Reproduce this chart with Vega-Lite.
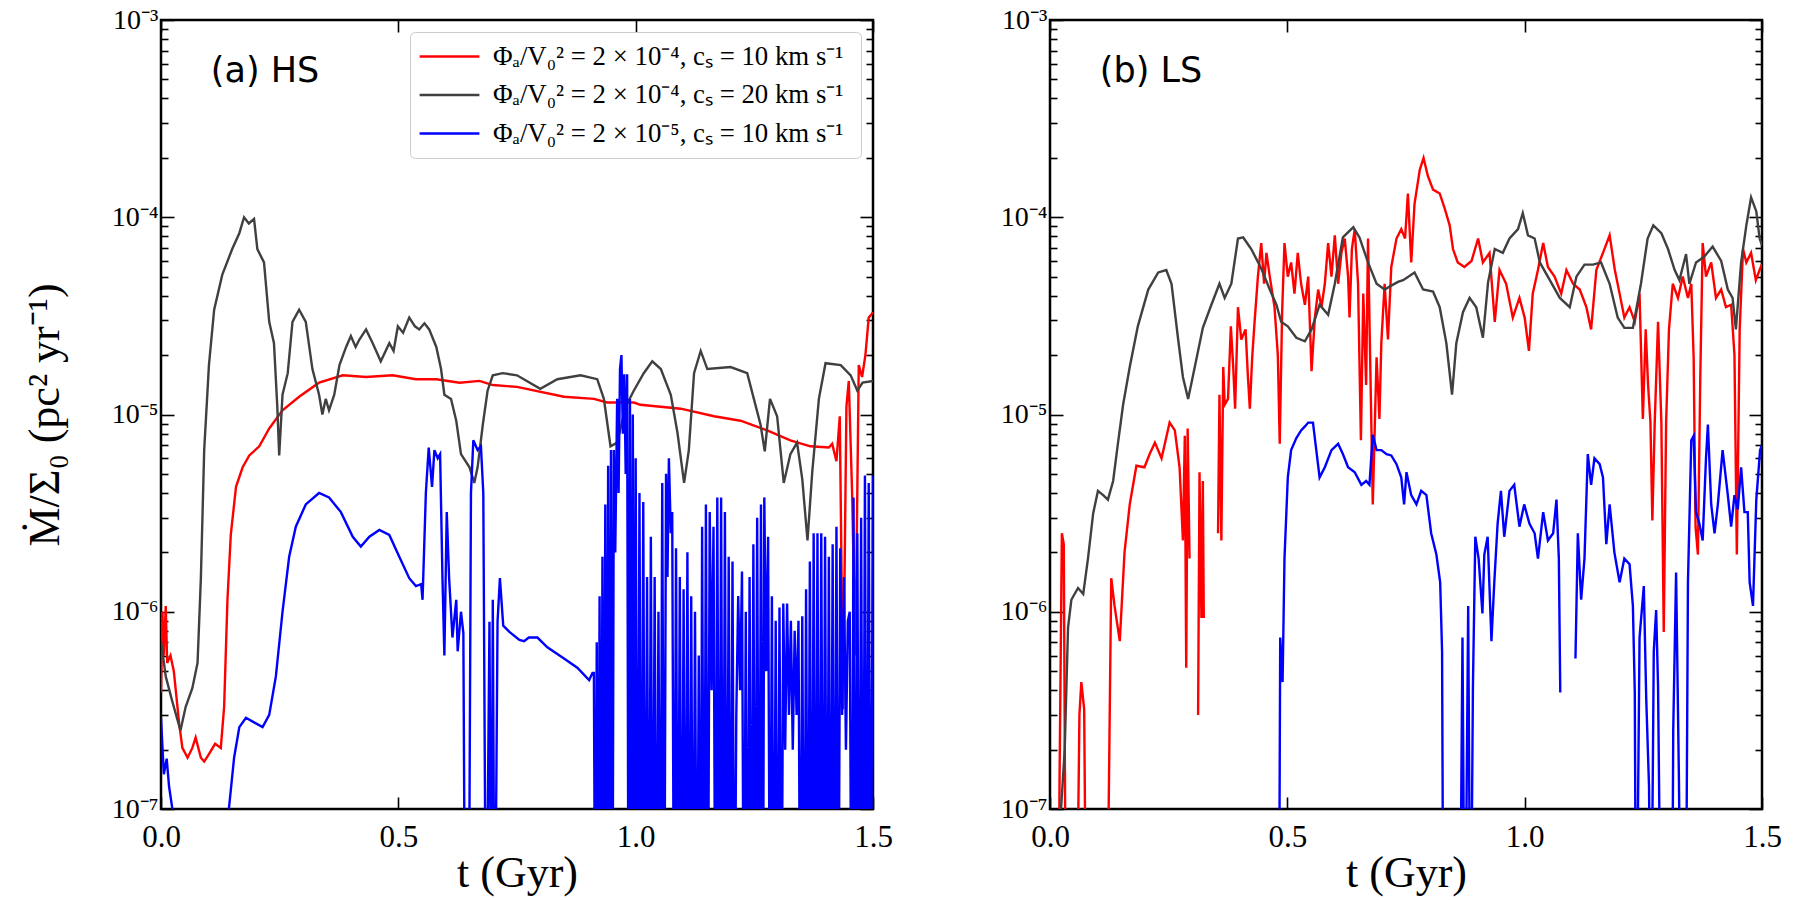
{
"$schema": "https://vega.github.io/schema/vega-lite/v6.json",
"background": "white",
"padding": {"left": 21, "top": 4, "right": 10, "bottom": 5},
"config": {
  "view": {"stroke": "black", "strokeWidth": 2.5},
  "concat": {"spacing": 104},
  "axis": {"domain": false, "grid": false, "tickColor": "black", "tickWidth": 1.6, "labelColor": "black", "titleColor": "black", "labelFont": "Liberation Serif", "titleFont": "Liberation Serif", "labelFontSize": 31, "titleFontSize": 44, "titleFontWeight": "normal", "labelFlush": false, "labelOverlap": false, "labelBound": false},
  "legend": {"labelFont": "Liberation Serif", "labelFontSize": 26.8, "labelColor": "black", "labelLimit": 0}
},
"resolve": {"scale": {"color": "independent"}, "legend": {"color": "independent"}},
"datasets": {
"hs": [
{"s":"g","t":0,"m":7.1e-7},{"s":"g","t":0.01,"m":4.7e-7},{"s":"g","t":0.024,"m":3.5e-7},{"s":"g","t":0.041,"m":2.5e-7},{"s":"g","t":0.052,"m":3.3e-7},{"s":"g","t":0.066,"m":4.1e-7},{"s":"g","t":0.077,"m":5.5e-7},{"s":"g","t":0.084,"m":1.48e-6},{"s":"g","t":0.091,"m":6.6e-6},{"s":"g","t":0.101,"m":1.78e-5},{"s":"g","t":0.112,"m":3.4e-5},{"s":"g","t":0.129,"m":5.1e-5},{"s":"g","t":0.15,"m":6.9e-5},{"s":"g","t":0.165,"m":8.3e-5},{"s":"g","t":0.175,"m":1.0e-4},{"s":"g","t":0.185,"m":9.3e-5},{"s":"g","t":0.196,"m":9.8e-5},{"s":"g","t":0.203,"m":6.9e-5},{"s":"g","t":0.217,"m":5.9e-5},{"s":"g","t":0.228,"m":2.95e-5},{"s":"g","t":0.238,"m":2.3e-5},{"s":"g","t":0.245,"m":1.1e-5},{"s":"g","t":0.249,"m":6.2e-6},{"s":"g","t":0.256,"m":1.26e-5},{"s":"g","t":0.267,"m":1.62e-5},{"s":"g","t":0.277,"m":2.95e-5},{"s":"g","t":0.291,"m":3.4e-5},{"s":"g","t":0.305,"m":2.95e-5},{"s":"g","t":0.319,"m":1.7e-5},{"s":"g","t":0.333,"m":1.26e-5},{"s":"g","t":0.34,"m":1.0e-5},{"s":"g","t":0.347,"m":1.2e-5},{"s":"g","t":0.354,"m":1.05e-5},{"s":"g","t":0.365,"m":1.26e-5},{"s":"g","t":0.376,"m":1.78e-5},{"s":"g","t":0.39,"m":2.2e-5},{"s":"g","t":0.40,"m":2.5e-5},{"s":"g","t":0.41,"m":2.2e-5},{"s":"g","t":0.418,"m":2.4e-5},{"s":"g","t":0.432,"m":2.7e-5},{"s":"g","t":0.446,"m":2.3e-5},{"s":"g","t":0.463,"m":1.86e-5},{"s":"g","t":0.481,"m":2.3e-5},{"s":"g","t":0.49,"m":2.1e-5},{"s":"g","t":0.499,"m":2.8e-5},{"s":"g","t":0.51,"m":2.6e-5},{"s":"g","t":0.523,"m":3.1e-5},{"s":"g","t":0.535,"m":2.8e-5},{"s":"g","t":0.544,"m":2.7e-5},{"s":"g","t":0.555,"m":2.9e-5},{"s":"g","t":0.565,"m":2.7e-5},{"s":"g","t":0.58,"m":2.2e-5},{"s":"g","t":0.59,"m":1.7e-5},{"s":"g","t":0.597,"m":1.26e-5},{"s":"g","t":0.611,"m":1.2e-5},{"s":"g","t":0.622,"m":9.3e-6},{"s":"g","t":0.632,"m":6.3e-6},{"s":"g","t":0.65,"m":5.4e-6},{"s":"g","t":0.66,"m":4.5e-6},{"s":"g","t":0.667,"m":5.4e-6},{"s":"g","t":0.678,"m":8.9e-6},{"s":"g","t":0.688,"m":1.32e-5},{"s":"g","t":0.699,"m":1.58e-5},{"s":"g","t":0.72,"m":1.62e-5},{"s":"g","t":0.75,"m":1.58e-5},{"s":"g","t":0.799,"m":1.35e-5},{"s":"g","t":0.835,"m":1.51e-5},{"s":"g","t":0.884,"m":1.58e-5},{"s":"g","t":0.919,"m":1.51e-5},{"s":"g","t":0.933,"m":1.2e-5},{"s":"g","t":0.947,"m":6.9e-6},{"s":"g","t":0.961,"m":7.2e-6},{"s":"g","t":0.979,"m":1.1e-5},{"s":"g","t":0.996,"m":1.32e-5},{"s":"g","t":1.017,"m":1.62e-5},{"s":"g","t":1.035,"m":1.86e-5},{"s":"g","t":1.053,"m":1.7e-5},{"s":"g","t":1.074,"m":1.26e-5},{"s":"g","t":1.088,"m":8.1e-6},{"s":"g","t":1.102,"m":4.5e-6},{"s":"g","t":1.112,"m":6.6e-6},{"s":"g","t":1.123,"m":1.62e-5},{"s":"g","t":1.137,"m":2.1e-5},{"s":"g","t":1.151,"m":1.7e-5},{"s":"g","t":1.2,"m":1.74e-5},{"s":"g","t":1.235,"m":1.62e-5},{"s":"g","t":1.249,"m":1.2e-5},{"s":"g","t":1.263,"m":8.9e-6},{"s":"g","t":1.272,"m":6.5e-6},{"s":"g","t":1.283,"m":1.2e-5},{"s":"g","t":1.298,"m":9.8e-6},{"s":"g","t":1.312,"m":4.5e-6},{"s":"g","t":1.326,"m":6.3e-6},{"s":"g","t":1.34,"m":7.2e-6},{"s":"g","t":1.351,"m":4.7e-6},{"s":"g","t":1.362,"m":2.3e-6},{"s":"g","t":1.372,"m":5.1e-6},{"s":"g","t":1.386,"m":1.2e-5},{"s":"g","t":1.4,"m":1.82e-5},{"s":"g","t":1.432,"m":1.78e-5},{"s":"g","t":1.453,"m":1.58e-5},{"s":"g","t":1.467,"m":1.32e-5},{"s":"g","t":1.478,"m":1.45e-5},{"s":"g","t":1.5,"m":1.48e-5},
{"s":"r","t":0,"m":3.9e-7},{"s":"r","t":0.003,"m":1.0e-6},{"s":"r","t":0.006,"m":6.0e-7},{"s":"r","t":0.01,"m":1.07e-6},{"s":"r","t":0.013,"m":5.5e-7},{"s":"r","t":0.02,"m":6.0e-7},{"s":"r","t":0.027,"m":5.0e-7},{"s":"r","t":0.038,"m":2.75e-7},{"s":"r","t":0.045,"m":2.04e-7},{"s":"r","t":0.056,"m":1.82e-7},{"s":"r","t":0.066,"m":2.04e-7},{"s":"r","t":0.073,"m":2.3e-7},{"s":"r","t":0.084,"m":1.82e-7},{"s":"r","t":0.091,"m":1.74e-7},{"s":"r","t":0.101,"m":1.9e-7},{"s":"r","t":0.114,"m":2.14e-7},{"s":"r","t":0.126,"m":2.04e-7},{"s":"r","t":0.133,"m":3.3e-7},{"s":"r","t":0.14,"m":1.15e-6},{"s":"r","t":0.147,"m":2.45e-6},{"s":"r","t":0.158,"m":4.3e-6},{"s":"r","t":0.172,"m":5.4e-6},{"s":"r","t":0.186,"m":6.2e-6},{"s":"r","t":0.207,"m":6.9e-6},{"s":"r","t":0.228,"m":8.5e-6},{"s":"r","t":0.256,"m":1.05e-5},{"s":"r","t":0.291,"m":1.23e-5},{"s":"r","t":0.333,"m":1.45e-5},{"s":"r","t":0.383,"m":1.58e-5},{"s":"r","t":0.432,"m":1.55e-5},{"s":"r","t":0.488,"m":1.58e-5},{"s":"r","t":0.537,"m":1.51e-5},{"s":"r","t":0.58,"m":1.51e-5},{"s":"r","t":0.629,"m":1.45e-5},{"s":"r","t":0.671,"m":1.48e-5},{"s":"r","t":0.699,"m":1.41e-5},{"s":"r","t":0.75,"m":1.38e-5},{"s":"r","t":0.849,"m":1.23e-5},{"s":"r","t":0.912,"m":1.2e-5},{"s":"r","t":0.94,"m":1.15e-5},{"s":"r","t":0.996,"m":1.15e-5},{"s":"r","t":1.01,"m":1.12e-5},{"s":"r","t":1.095,"m":1.07e-5},{"s":"r","t":1.165,"m":9.8e-6},{"s":"r","t":1.221,"m":9.3e-6},{"s":"r","t":1.277,"m":8.3e-6},{"s":"r","t":1.326,"m":7.4e-6},{"s":"r","t":1.368,"m":6.9e-6},{"s":"r","t":1.407,"m":6.8e-6},{"s":"r","t":1.414,"m":7.1e-6},{"s":"r","t":1.423,"m":5.8e-6},{"s":"r","t":1.43,"m":9.8e-6},{"s":"r","t":1.437,"m":3.2e-7},{"s":"r","t":1.444,"m":1.1e-5},{"s":"r","t":1.449,"m":1.48e-5},{"s":"r","t":1.456,"m":4.0e-6},{"s":"r","t":1.463,"m":6.0e-7},{"s":"r","t":1.47,"m":1.78e-5},{"s":"r","t":1.477,"m":1.55e-5},{"s":"r","t":1.484,"m":2.0e-5},{"s":"r","t":1.491,"m":3.1e-5},{"s":"r","t":1.496,"m":3.2e-5},{"s":"r","t":1.5,"m":3.3e-5},
{"s":"b","t":0,"m":2.9e-7},{"s":"b","t":0.006,"m":1.5e-7},{"s":"b","t":0.012,"m":1.8e-7},{"s":"b","t":0.017,"m":1.3e-7},{"s":"b","t":0.024,"m":1.0e-7},{"s":"b","t":0.03,"m":1e-8},{"s":"b","t":0.135,"m":1e-8},{"s":"b","t":0.143,"m":1.0e-7},{"s":"b","t":0.154,"m":1.82e-7},{"s":"b","t":0.165,"m":2.6e-7},{"s":"b","t":0.179,"m":2.9e-7},{"s":"b","t":0.196,"m":2.75e-7},{"s":"b","t":0.214,"m":2.6e-7},{"s":"b","t":0.228,"m":3.0e-7},{"s":"b","t":0.242,"m":4.7e-7},{"s":"b","t":0.256,"m":1.0e-6},{"s":"b","t":0.27,"m":1.9e-6},{"s":"b","t":0.284,"m":2.7e-6},{"s":"b","t":0.305,"m":3.5e-6},{"s":"b","t":0.333,"m":4.0e-6},{"s":"b","t":0.354,"m":3.8e-6},{"s":"b","t":0.379,"m":3.2e-6},{"s":"b","t":0.404,"m":2.4e-6},{"s":"b","t":0.421,"m":2.14e-6},{"s":"b","t":0.439,"m":2.4e-6},{"s":"b","t":0.46,"m":2.6e-6},{"s":"b","t":0.481,"m":2.45e-6},{"s":"b","t":0.502,"m":1.9e-6},{"s":"b","t":0.523,"m":1.48e-6},{"s":"b","t":0.537,"m":1.35e-6},{"s":"b","t":0.548,"m":1.38e-6},{"s":"b","t":0.551,"m":1.15e-6},{"s":"b","t":0.558,"m":4.0e-6},{"s":"b","t":0.564,"m":6.8e-6},{"s":"b","t":0.571,"m":4.3e-6},{"s":"b","t":0.576,"m":6.6e-6},{"s":"b","t":0.583,"m":6.0e-6},{"s":"b","t":0.588,"m":6.3e-6},{"s":"b","t":0.593,"m":1.48e-6},{"s":"b","t":0.597,"m":6.0e-7},{"s":"b","t":0.602,"m":3.2e-6},{"s":"b","t":0.607,"m":1.48e-6},{"s":"b","t":0.614,"m":7.4e-7},{"s":"b","t":0.622,"m":1.15e-6},{"s":"b","t":0.625,"m":6.3e-7},{"s":"b","t":0.632,"m":1.0e-6},{"s":"b","t":0.637,"m":7.8e-7},{"s":"b","t":0.641,"m":1e-8},{"s":"b","t":0.648,"m":1e-8},{"s":"b","t":0.653,"m":4.0e-6},{"s":"b","t":0.658,"m":7.4e-6},{"s":"b","t":0.667,"m":6.6e-6},{"s":"b","t":0.674,"m":6.9e-6},{"s":"b","t":0.679,"m":4.0e-6},{"s":"b","t":0.685,"m":1e-8},{"s":"b","t":0.692,"m":8.9e-7},{"s":"b","t":0.696,"m":1e-8},{"s":"b","t":0.699,"m":1.15e-6},{"s":"b","t":0.703,"m":1e-8},{"s":"b","t":0.709,"m":8.9e-7},{"s":"b","t":0.714,"m":1.48e-6},{"s":"b","t":0.721,"m":8.5e-7},{"s":"b","t":0.734,"m":7.9e-7},{"s":"b","t":0.755,"m":7.2e-7},{"s":"b","t":0.765,"m":7.1e-7},{"s":"b","t":0.775,"m":7.4e-7},{"s":"b","t":0.793,"m":7.4e-7},{"s":"b","t":0.814,"m":6.6e-7},{"s":"b","t":0.849,"m":5.8e-7},{"s":"b","t":0.877,"m":5.2e-7},{"s":"b","t":0.902,"m":4.5e-7},{"s":"b","t":0.909,"m":4.9e-7},
{"s":"b","t":0.912,"m":4.9e-7},{"s":"b","t":0.915,"m":1e-8},{"s":"b","t":0.918,"m":7e-7},{"s":"b","t":0.921,"m":1e-8},{"s":"b","t":0.924,"m":1.2e-6},{"s":"b","t":0.927,"m":1e-8},{"s":"b","t":0.93,"m":1.9e-6},{"s":"b","t":0.933,"m":1e-8},{"s":"b","t":0.936,"m":3.5e-6},{"s":"b","t":0.939,"m":1e-8},{"s":"b","t":0.942,"m":5.5e-6},{"s":"b","t":0.945,"m":1e-8},{"s":"b","t":0.948,"m":6.6e-6},{"s":"b","t":0.951,"m":1e-8},{"s":"b","t":0.954,"m":6.6e-6},{"s":"b","t":0.957,"m":2e-6},{"s":"b","t":0.961,"m":1.2e-5},{"s":"b","t":0.964,"m":4e-6},{"s":"b","t":0.967,"m":1.7e-5},{"s":"b","t":0.97,"m":2.0e-5},{"s":"b","t":0.973,"m":8e-6},{"s":"b","t":0.976,"m":1.6e-5},{"s":"b","t":0.979,"m":5e-6},{"s":"b","t":0.982,"m":1.6e-5},{"s":"b","t":0.985,"m":1e-8},{"s":"b","t":0.988,"m":1.2e-5},{"s":"b","t":0.991,"m":1e-8},{"s":"b","t":0.994,"m":1.0e-5},{"s":"b","t":0.997,"m":1e-8},{"s":"b","t":1.0,"m":6e-6},{"s":"b","t":1.004,"m":1e-8},{"s":"b","t":1.008,"m":4e-6},{"s":"b","t":1.012,"m":1e-8},{"s":"b","t":1.016,"m":3.6e-6},{"s":"b","t":1.02,"m":1e-8},{"s":"b","t":1.024,"m":1.5e-6},{"s":"b","t":1.028,"m":1e-8},{"s":"b","t":1.032,"m":2.4e-6},{"s":"b","t":1.036,"m":1e-8},{"s":"b","t":1.04,"m":1.5e-6},{"s":"b","t":1.044,"m":1e-8},{"s":"b","t":1.048,"m":1e-6},{"s":"b","t":1.052,"m":1e-8},{"s":"b","t":1.056,"m":4.5e-6},{"s":"b","t":1.06,"m":1e-8},{"s":"b","t":1.064,"m":5e-6},{"s":"b","t":1.067,"m":1.5e-6},{"s":"b","t":1.07,"m":6e-6},{"s":"b","t":1.074,"m":2.5e-6},{"s":"b","t":1.077,"m":3.2e-6},{"s":"b","t":1.081,"m":1e-8},{"s":"b","t":1.085,"m":2.1e-6},{"s":"b","t":1.089,"m":1e-8},{"s":"b","t":1.093,"m":1.5e-6},{"s":"b","t":1.097,"m":1e-8},{"s":"b","t":1.101,"m":1.3e-6},{"s":"b","t":1.105,"m":1e-8},{"s":"b","t":1.109,"m":2e-6},{"s":"b","t":1.113,"m":1e-8},{"s":"b","t":1.117,"m":1.2e-6},{"s":"b","t":1.121,"m":1e-8},{"s":"b","t":1.125,"m":1e-6},{"s":"b","t":1.129,"m":1e-8},{"s":"b","t":1.133,"m":6e-7},{"s":"b","t":1.137,"m":1e-8},{"s":"b","t":1.14,"m":2.7e-6},{"s":"b","t":1.144,"m":1e-8},{"s":"b","t":1.148,"m":3.5e-6},{"s":"b","t":1.152,"m":1e-8},{"s":"b","t":1.156,"m":3.2e-6},{"s":"b","t":1.16,"m":4e-7},{"s":"b","t":1.164,"m":2.7e-6},{"s":"b","t":1.168,"m":1e-8},{"s":"b","t":1.172,"m":3.8e-6},{"s":"b","t":1.176,"m":1e-8},{"s":"b","t":1.18,"m":3.8e-6},{"s":"b","t":1.184,"m":1e-8},{"s":"b","t":1.188,"m":3.2e-6},{"s":"b","t":1.192,"m":1e-8},{"s":"b","t":1.196,"m":1.9e-6},{"s":"b","t":1.2,"m":1e-8},{"s":"b","t":1.204,"m":1.8e-6},{"s":"b","t":1.208,"m":1e-8},{"s":"b","t":1.212,"m":3e-7},{"s":"b","t":1.216,"m":1.2e-6},{"s":"b","t":1.22,"m":4e-7},{"s":"b","t":1.224,"m":1.6e-6},{"s":"b","t":1.228,"m":1e-8},{"s":"b","t":1.232,"m":1e-6},{"s":"b","t":1.236,"m":1e-8},{"s":"b","t":1.24,"m":1.5e-6},{"s":"b","t":1.244,"m":1e-8},{"s":"b","t":1.248,"m":2.2e-6},{"s":"b","t":1.252,"m":1e-8},{"s":"b","t":1.256,"m":3e-6},{"s":"b","t":1.26,"m":1e-8},{"s":"b","t":1.264,"m":3.5e-6},{"s":"b","t":1.268,"m":1e-8},{"s":"b","t":1.271,"m":3.8e-6},{"s":"b","t":1.275,"m":5e-7},{"s":"b","t":1.279,"m":2.4e-6},{"s":"b","t":1.283,"m":1e-8},{"s":"b","t":1.287,"m":1.2e-6},{"s":"b","t":1.291,"m":1e-8},{"s":"b","t":1.295,"m":9e-7},{"s":"b","t":1.299,"m":1e-8},{"s":"b","t":1.303,"m":1.05e-6},{"s":"b","t":1.307,"m":1e-8},{"s":"b","t":1.311,"m":1.1e-6},{"s":"b","t":1.315,"m":2e-7},{"s":"b","t":1.319,"m":1.1e-6},{"s":"b","t":1.323,"m":3e-7},{"s":"b","t":1.327,"m":9e-7},{"s":"b","t":1.331,"m":2e-7},{"s":"b","t":1.335,"m":8e-7},{"s":"b","t":1.339,"m":3e-7},{"s":"b","t":1.343,"m":9e-7},{"s":"b","t":1.347,"m":1e-8},{"s":"b","t":1.351,"m":9.5e-7},{"s":"b","t":1.355,"m":1e-8},{"s":"b","t":1.359,"m":1.3e-6},{"s":"b","t":1.363,"m":1e-8},{"s":"b","t":1.367,"m":1.8e-6},{"s":"b","t":1.371,"m":1e-8},{"s":"b","t":1.375,"m":2.5e-6},{"s":"b","t":1.379,"m":1e-8},{"s":"b","t":1.383,"m":2.5e-6},{"s":"b","t":1.387,"m":1e-8},{"s":"b","t":1.391,"m":2.5e-6},{"s":"b","t":1.395,"m":1e-8},{"s":"b","t":1.399,"m":2.4e-6},{"s":"b","t":1.403,"m":1e-8},{"s":"b","t":1.407,"m":1.9e-6},{"s":"b","t":1.411,"m":1e-8},{"s":"b","t":1.415,"m":2.2e-6},{"s":"b","t":1.419,"m":1e-8},{"s":"b","t":1.423,"m":2.7e-6},{"s":"b","t":1.427,"m":1e-8},{"s":"b","t":1.431,"m":2.1e-6},{"s":"b","t":1.435,"m":3e-7},{"s":"b","t":1.439,"m":1.5e-6},{"s":"b","t":1.443,"m":2e-7},{"s":"b","t":1.447,"m":9e-7},{"s":"b","t":1.451,"m":1e-6},{"s":"b","t":1.455,"m":1e-8},{"s":"b","t":1.459,"m":3.8e-6},{"s":"b","t":1.463,"m":1e-8},{"s":"b","t":1.467,"m":2.5e-6},{"s":"b","t":1.471,"m":1e-8},{"s":"b","t":1.475,"m":3e-6},{"s":"b","t":1.479,"m":1e-8},{"s":"b","t":1.483,"m":4.9e-6},{"s":"b","t":1.487,"m":1e-8},{"s":"b","t":1.491,"m":4.5e-6},{"s":"b","t":1.495,"m":1e-8},{"s":"b","t":1.5,"m":4.9e-6}
],
"ls": [
{"s":"g","t":0.022,"m":9e-8},{"s":"g","t":0.031,"m":2e-7},{"s":"g","t":0.034,"m":3.7e-7},{"s":"g","t":0.038,"m":8.3e-7},{"s":"g","t":0.045,"m":1.15e-6},{"s":"g","t":0.059,"m":1.32e-6},{"s":"g","t":0.07,"m":1.23e-6},{"s":"g","t":0.08,"m":1.86e-6},{"s":"g","t":0.091,"m":3.16e-6},{"s":"g","t":0.101,"m":4.1e-6},{"s":"g","t":0.112,"m":3.9e-6},{"s":"g","t":0.122,"m":3.7e-6},{"s":"g","t":0.133,"m":4.6e-6},{"s":"g","t":0.143,"m":7.1e-6},{"s":"g","t":0.154,"m":1.12e-5},{"s":"g","t":0.168,"m":1.74e-5},{"s":"g","t":0.185,"m":2.8e-5},{"s":"g","t":0.207,"m":4.3e-5},{"s":"g","t":0.228,"m":5.25e-5},{"s":"g","t":0.245,"m":5.4e-5},{"s":"g","t":0.256,"m":4.6e-5},{"s":"g","t":0.27,"m":2.4e-5},{"s":"g","t":0.28,"m":1.55e-5},{"s":"g","t":0.291,"m":1.2e-5},{"s":"g","t":0.305,"m":1.74e-5},{"s":"g","t":0.322,"m":2.75e-5},{"s":"g","t":0.34,"m":3.6e-5},{"s":"g","t":0.357,"m":4.6e-5},{"s":"g","t":0.368,"m":3.9e-5},{"s":"g","t":0.382,"m":4.6e-5},{"s":"g","t":0.396,"m":7.8e-5},{"s":"g","t":0.407,"m":7.9e-5},{"s":"g","t":0.424,"m":6.9e-5},{"s":"g","t":0.445,"m":5.5e-5},{"s":"g","t":0.463,"m":4.3e-5},{"s":"g","t":0.477,"m":3.6e-5},{"s":"g","t":0.487,"m":2.95e-5},{"s":"g","t":0.501,"m":2.8e-5},{"s":"g","t":0.519,"m":2.45e-5},{"s":"g","t":0.537,"m":2.35e-5},{"s":"g","t":0.551,"m":2.7e-5},{"s":"g","t":0.568,"m":3.6e-5},{"s":"g","t":0.586,"m":3.2e-5},{"s":"g","t":0.6,"m":4.6e-5},{"s":"g","t":0.617,"m":7.9e-5},{"s":"g","t":0.639,"m":8.9e-5},{"s":"g","t":0.652,"m":7.9e-5},{"s":"g","t":0.67,"m":5.9e-5},{"s":"g","t":0.688,"m":4.6e-5},{"s":"g","t":0.705,"m":4.3e-5},{"s":"g","t":0.719,"m":4.5e-5},{"s":"g","t":0.733,"m":4.7e-5},{"s":"g","t":0.744,"m":4.8e-5},{"s":"g","t":0.768,"m":5.25e-5},{"s":"g","t":0.786,"m":4.3e-5},{"s":"g","t":0.807,"m":4.2e-5},{"s":"g","t":0.821,"m":3.5e-5},{"s":"g","t":0.835,"m":2.3e-5},{"s":"g","t":0.847,"m":1.26e-5},{"s":"g","t":0.856,"m":2.3e-5},{"s":"g","t":0.87,"m":3.3e-5},{"s":"g","t":0.884,"m":3.9e-5},{"s":"g","t":0.898,"m":3.5e-5},{"s":"g","t":0.912,"m":2.45e-5},{"s":"g","t":0.923,"m":4.7e-5},{"s":"g","t":0.937,"m":6.9e-5},{"s":"g","t":0.954,"m":6.6e-5},{"s":"g","t":0.968,"m":7.8e-5},{"s":"g","t":0.986,"m":8.7e-5},{"s":"g","t":0.996,"m":1.05e-4},{"s":"g","t":1.007,"m":8.1e-5},{"s":"g","t":1.021,"m":7.8e-5},{"s":"g","t":1.032,"m":5.9e-5},{"s":"g","t":1.053,"m":4.8e-5},{"s":"g","t":1.074,"m":3.9e-5},{"s":"g","t":1.095,"m":3.5e-5},{"s":"g","t":1.109,"m":5.0e-5},{"s":"g","t":1.126,"m":5.75e-5},{"s":"g","t":1.144,"m":5.75e-5},{"s":"g","t":1.161,"m":5.9e-5},{"s":"g","t":1.179,"m":4.6e-5},{"s":"g","t":1.196,"m":3.1e-5},{"s":"g","t":1.21,"m":2.75e-5},{"s":"g","t":1.228,"m":2.75e-5},{"s":"g","t":1.245,"m":4.6e-5},{"s":"g","t":1.259,"m":7.8e-5},{"s":"g","t":1.271,"m":9.1e-5},{"s":"g","t":1.288,"m":8.3e-5},{"s":"g","t":1.302,"m":6.9e-5},{"s":"g","t":1.316,"m":5.4e-5},{"s":"g","t":1.326,"m":4.8e-5},{"s":"g","t":1.34,"m":6.5e-5},{"s":"g","t":1.347,"m":4.6e-5},{"s":"g","t":1.361,"m":5.9e-5},{"s":"g","t":1.378,"m":6.3e-5},{"s":"g","t":1.396,"m":7.1e-5},{"s":"g","t":1.414,"m":6.0e-5},{"s":"g","t":1.428,"m":4.3e-5},{"s":"g","t":1.438,"m":3.9e-5},{"s":"g","t":1.445,"m":2.7e-5},{"s":"g","t":1.456,"m":5.9e-5},{"s":"g","t":1.467,"m":9.1e-5},{"s":"g","t":1.477,"m":1.26e-4},{"s":"g","t":1.488,"m":1.07e-4},{"s":"g","t":1.495,"m":7.8e-5},{"s":"g","t":1.5,"m":7.2e-5},
{"s":"r","t":0.018,"m":1e-8},{"s":"r","t":0.02,"m":1.3e-7},{"s":"r","t":0.025,"m":2.5e-6},{"s":"r","t":0.029,"m":2.2e-6},{"s":"r","t":0.034,"m":1e-8},{"s":"r","t":0.055,"m":1e-8},{"s":"r","t":0.062,"m":3e-7},{"s":"r","t":0.066,"m":4.4e-7},{"s":"r","t":0.072,"m":3.2e-7},{"s":"r","t":0.077,"m":1e-8},{"s":"r","t":0.119,"m":1e-8},{"s":"r","t":0.129,"m":1.48e-6},{"s":"r","t":0.136,"m":1.07e-6},{"s":"r","t":0.147,"m":7.1e-7},{"s":"r","t":0.157,"m":2.0e-6},{"s":"r","t":0.168,"m":3.5e-6},{"s":"r","t":0.182,"m":5.5e-6},{"s":"r","t":0.199,"m":5.4e-6},{"s":"r","t":0.21,"m":6.3e-6},{"s":"r","t":0.221,"m":7.2e-6},{"s":"r","t":0.235,"m":6.0e-6},{"s":"r","t":0.252,"m":9.1e-6},{"s":"r","t":0.263,"m":8.3e-6},{"s":"r","t":0.273,"m":5.4e-6},{"s":"r","t":0.28,"m":2.3e-6},{"s":"r","t":0.284,"m":7.8e-6},{"s":"r","t":0.287,"m":5.2e-7},{"s":"r","t":0.29,"m":8.5e-6},{"s":"r","t":0.294,"m":1.86e-6},{"s":"r","t":0.3,"m":null},{"s":"r","t":0.312,"m":3.0e-7},{"s":"r","t":0.315,"m":5.1e-6},{"s":"r","t":0.319,"m":9.3e-7},{"s":"r","t":0.322,"m":4.6e-6},{"s":"r","t":0.324,"m":9.3e-7},{"s":"r","t":0.34,"m":null},{"s":"r","t":0.354,"m":2.5e-6},{"s":"r","t":0.357,"m":1.26e-5},{"s":"r","t":0.361,"m":2.3e-6},{"s":"r","t":0.365,"m":1.74e-5},{"s":"r","t":0.368,"m":1.12e-5},{"s":"r","t":0.375,"m":1.2e-5},{"s":"r","t":0.381,"m":2.8e-5},{"s":"r","t":0.386,"m":1.74e-5},{"s":"r","t":0.39,"m":1.07e-5},{"s":"r","t":0.396,"m":3.5e-5},{"s":"r","t":0.403,"m":2.4e-5},{"s":"r","t":0.412,"m":2.7e-5},{"s":"r","t":0.417,"m":1.55e-5},{"s":"r","t":0.421,"m":1.07e-5},{"s":"r","t":0.426,"m":1.95e-5},{"s":"r","t":0.431,"m":2.95e-5},{"s":"r","t":0.438,"m":5.0e-5},{"s":"r","t":0.445,"m":7.4e-5},{"s":"r","t":0.451,"m":4.6e-5},{"s":"r","t":0.456,"m":6.6e-5},{"s":"r","t":0.463,"m":5.0e-5},{"s":"r","t":0.473,"m":3.5e-5},{"s":"r","t":0.48,"m":2.0e-5},{"s":"r","t":0.484,"m":7.1e-6},{"s":"r","t":0.489,"m":3.3e-5},{"s":"r","t":0.494,"m":7.4e-5},{"s":"r","t":0.501,"m":5.0e-5},{"s":"r","t":0.508,"m":5.9e-5},{"s":"r","t":0.515,"m":4.1e-5},{"s":"r","t":0.522,"m":6.6e-5},{"s":"r","t":0.529,"m":4.6e-5},{"s":"r","t":0.537,"m":3.6e-5},{"s":"r","t":0.544,"m":5.0e-5},{"s":"r","t":0.551,"m":1.66e-5},{"s":"r","t":0.558,"m":3.1e-5},{"s":"r","t":0.565,"m":4.3e-5},{"s":"r","t":0.572,"m":3.5e-5},{"s":"r","t":0.579,"m":4.6e-5},{"s":"r","t":0.586,"m":7.4e-5},{"s":"r","t":0.593,"m":5.0e-5},{"s":"r","t":0.6,"m":8.1e-5},{"s":"r","t":0.607,"m":4.6e-5},{"s":"r","t":0.614,"m":6.6e-5},{"s":"r","t":0.621,"m":7.8e-5},{"s":"r","t":0.628,"m":5.0e-5},{"s":"r","t":0.631,"m":3.1e-5},{"s":"r","t":0.636,"m":6.9e-5},{"s":"r","t":0.642,"m":8.7e-5},{"s":"r","t":0.649,"m":4.6e-5},{"s":"r","t":0.655,"m":7.4e-6},{"s":"r","t":0.66,"m":4.1e-5},{"s":"r","t":0.666,"m":1.41e-5},{"s":"r","t":0.67,"m":7.8e-5},{"s":"r","t":0.676,"m":1.2e-5},{"s":"r","t":0.68,"m":3.5e-6},{"s":"r","t":0.688,"m":1.95e-5},{"s":"r","t":0.694,"m":9.5e-6},{"s":"r","t":0.698,"m":2.3e-5},{"s":"r","t":0.705,"m":4.6e-5},{"s":"r","t":0.712,"m":2.4e-5},{"s":"r","t":0.719,"m":5.6e-5},{"s":"r","t":0.73,"m":7.8e-5},{"s":"r","t":0.74,"m":8.7e-5},{"s":"r","t":0.748,"m":7.8e-5},{"s":"r","t":0.754,"m":1.32e-4},{"s":"r","t":0.761,"m":5.9e-5},{"s":"r","t":0.768,"m":1.17e-4},{"s":"r","t":0.779,"m":1.74e-4},{"s":"r","t":0.787,"m":2.0e-4},{"s":"r","t":0.796,"m":1.62e-4},{"s":"r","t":0.807,"m":1.38e-4},{"s":"r","t":0.821,"m":1.32e-4},{"s":"r","t":0.831,"m":1.12e-4},{"s":"r","t":0.842,"m":9.1e-5},{"s":"r","t":0.849,"m":6.9e-5},{"s":"r","t":0.859,"m":5.9e-5},{"s":"r","t":0.873,"m":5.6e-5},{"s":"r","t":0.888,"m":6.0e-5},{"s":"r","t":0.902,"m":7.8e-5},{"s":"r","t":0.912,"m":5.9e-5},{"s":"r","t":0.926,"m":6.6e-5},{"s":"r","t":0.937,"m":2.95e-5},{"s":"r","t":0.947,"m":5.4e-5},{"s":"r","t":0.961,"m":4.6e-5},{"s":"r","t":0.975,"m":3.1e-5},{"s":"r","t":0.989,"m":3.9e-5},{"s":"r","t":1.0,"m":3.1e-5},{"s":"r","t":1.009,"m":2.1e-5},{"s":"r","t":1.017,"m":4.1e-5},{"s":"r","t":1.028,"m":5.4e-5},{"s":"r","t":1.039,"m":7.4e-5},{"s":"r","t":1.049,"m":5.6e-5},{"s":"r","t":1.063,"m":5.0e-5},{"s":"r","t":1.077,"m":4.1e-5},{"s":"r","t":1.088,"m":5.4e-5},{"s":"r","t":1.102,"m":4.6e-5},{"s":"r","t":1.116,"m":4.3e-5},{"s":"r","t":1.13,"m":3.5e-5},{"s":"r","t":1.14,"m":2.7e-5},{"s":"r","t":1.151,"m":5.4e-5},{"s":"r","t":1.165,"m":6.6e-5},{"s":"r","t":1.179,"m":8.1e-5},{"s":"r","t":1.19,"m":5.4e-5},{"s":"r","t":1.2,"m":4.1e-5},{"s":"r","t":1.21,"m":3.1e-5},{"s":"r","t":1.221,"m":3.5e-5},{"s":"r","t":1.232,"m":2.95e-5},{"s":"r","t":1.242,"m":4.1e-5},{"s":"r","t":1.249,"m":9.5e-6},{"s":"r","t":1.255,"m":2.7e-5},{"s":"r","t":1.26,"m":1.41e-5},{"s":"r","t":1.265,"m":9.1e-6},{"s":"r","t":1.269,"m":2.9e-6},{"s":"r","t":1.274,"m":9.1e-6},{"s":"r","t":1.281,"m":2.95e-5},{"s":"r","t":1.288,"m":9.1e-6},{"s":"r","t":1.293,"m":7.9e-7},{"s":"r","t":1.298,"m":9.1e-6},{"s":"r","t":1.304,"m":2.7e-5},{"s":"r","t":1.312,"m":4.6e-5},{"s":"r","t":1.323,"m":3.9e-5},{"s":"r","t":1.333,"m":5.0e-5},{"s":"r","t":1.344,"m":3.9e-5},{"s":"r","t":1.351,"m":4.6e-5},{"s":"r","t":1.356,"m":1.95e-5},{"s":"r","t":1.36,"m":2.7e-6},{"s":"r","t":1.365,"m":1.95e-6},{"s":"r","t":1.37,"m":1.55e-5},{"s":"r","t":1.375,"m":7.4e-5},{"s":"r","t":1.382,"m":5.0e-5},{"s":"r","t":1.393,"m":5.9e-5},{"s":"r","t":1.403,"m":3.9e-5},{"s":"r","t":1.414,"m":4.3e-5},{"s":"r","t":1.424,"m":3.5e-5},{"s":"r","t":1.435,"m":3.6e-5},{"s":"r","t":1.442,"m":2.0e-5},{"s":"r","t":1.447,"m":1.95e-6},{"s":"r","t":1.453,"m":2.7e-5},{"s":"r","t":1.46,"m":6.9e-5},{"s":"r","t":1.467,"m":5.9e-5},{"s":"r","t":1.477,"m":6.6e-5},{"s":"r","t":1.487,"m":4.8e-5},{"s":"r","t":1.495,"m":5.4e-5},{"s":"r","t":1.5,"m":5.8e-5},
{"s":"b","t":0.482,"m":1e-8},{"s":"b","t":0.485,"m":7.4e-7},{"s":"b","t":0.49,"m":4.4e-7},{"s":"b","t":0.494,"m":1.86e-6},{"s":"b","t":0.501,"m":4.8e-6},{"s":"b","t":0.508,"m":6.6e-6},{"s":"b","t":0.519,"m":7.6e-6},{"s":"b","t":0.529,"m":8.3e-6},{"s":"b","t":0.537,"m":8.7e-6},{"s":"b","t":0.544,"m":9.1e-6},{"s":"b","t":0.554,"m":9.1e-6},{"s":"b","t":0.561,"m":6.6e-6},{"s":"b","t":0.568,"m":4.8e-6},{"s":"b","t":0.579,"m":5.4e-6},{"s":"b","t":0.593,"m":6.6e-6},{"s":"b","t":0.607,"m":7.1e-6},{"s":"b","t":0.617,"m":6.3e-6},{"s":"b","t":0.628,"m":5.4e-6},{"s":"b","t":0.642,"m":5.1e-6},{"s":"b","t":0.656,"m":4.4e-6},{"s":"b","t":0.666,"m":4.6e-6},{"s":"b","t":0.673,"m":4.4e-6},{"s":"b","t":0.68,"m":7.9e-6},{"s":"b","t":0.688,"m":6.6e-6},{"s":"b","t":0.698,"m":6.6e-6},{"s":"b","t":0.709,"m":6.3e-6},{"s":"b","t":0.719,"m":6.2e-6},{"s":"b","t":0.73,"m":5.6e-6},{"s":"b","t":0.74,"m":4.8e-6},{"s":"b","t":0.746,"m":3.5e-6},{"s":"b","t":0.751,"m":5.1e-6},{"s":"b","t":0.761,"m":3.9e-6},{"s":"b","t":0.772,"m":3.5e-6},{"s":"b","t":0.782,"m":4.1e-6},{"s":"b","t":0.793,"m":3.9e-6},{"s":"b","t":0.803,"m":2.5e-6},{"s":"b","t":0.814,"m":1.95e-6},{"s":"b","t":0.822,"m":1.41e-6},{"s":"b","t":0.826,"m":6.3e-7},{"s":"b","t":0.829,"m":1e-8},{"s":"b","t":0.863,"m":1e-8},{"s":"b","t":0.869,"m":7.4e-7},{"s":"b","t":0.874,"m":1e-8},{"s":"b","t":0.881,"m":1.07e-6},{"s":"b","t":0.886,"m":1e-8},{"s":"b","t":0.891,"m":4.2e-7},{"s":"b","t":0.896,"m":2.4e-6},{"s":"b","t":0.903,"m":1.86e-6},{"s":"b","t":0.911,"m":9.8e-7},{"s":"b","t":0.915,"m":1.95e-6},{"s":"b","t":0.922,"m":2.4e-6},{"s":"b","t":0.93,"m":7.1e-7},{"s":"b","t":0.936,"m":1.41e-6},{"s":"b","t":0.943,"m":2.8e-6},{"s":"b","t":0.95,"m":4.1e-6},{"s":"b","t":0.957,"m":2.4e-6},{"s":"b","t":0.968,"m":4.1e-6},{"s":"b","t":0.978,"m":4.4e-6},{"s":"b","t":0.989,"m":2.7e-6},{"s":"b","t":0.999,"m":3.5e-6},{"s":"b","t":1.01,"m":2.8e-6},{"s":"b","t":1.021,"m":2.5e-6},{"s":"b","t":1.028,"m":1.86e-6},{"s":"b","t":1.039,"m":3.2e-6},{"s":"b","t":1.049,"m":2.3e-6},{"s":"b","t":1.06,"m":2.5e-6},{"s":"b","t":1.067,"m":3.7e-6},{"s":"b","t":1.072,"m":1.86e-6},{"s":"b","t":1.075,"m":3.9e-7},{"s":"b","t":1.09,"m":null},{"s":"b","t":1.107,"m":5.8e-7},{"s":"b","t":1.112,"m":2.5e-6},{"s":"b","t":1.119,"m":1.15e-6},{"s":"b","t":1.126,"m":1.86e-6},{"s":"b","t":1.133,"m":6.3e-6},{"s":"b","t":1.14,"m":4.4e-6},{"s":"b","t":1.147,"m":6.0e-6},{"s":"b","t":1.158,"m":5.6e-6},{"s":"b","t":1.165,"m":4.8e-6},{"s":"b","t":1.172,"m":2.2e-6},{"s":"b","t":1.179,"m":3.5e-6},{"s":"b","t":1.189,"m":2.0e-6},{"s":"b","t":1.2,"m":1.41e-6},{"s":"b","t":1.21,"m":1.86e-6},{"s":"b","t":1.221,"m":1.74e-6},{"s":"b","t":1.228,"m":1.07e-6},{"s":"b","t":1.232,"m":3.9e-7},{"s":"b","t":1.235,"m":1e-8},{"s":"b","t":1.242,"m":7.4e-7},{"s":"b","t":1.251,"m":1.35e-6},{"s":"b","t":1.256,"m":3.7e-7},{"s":"b","t":1.262,"m":1.3e-7},{"s":"b","t":1.266,"m":1e-8},{"s":"b","t":1.272,"m":6.3e-7},{"s":"b","t":1.277,"m":1.02e-6},{"s":"b","t":1.281,"m":4.2e-7},{"s":"b","t":1.288,"m":1e-8},{"s":"b","t":1.31,"m":1e-8},{"s":"b","t":1.313,"m":2.5e-7},{"s":"b","t":1.319,"m":1.58e-6},{"s":"b","t":1.325,"m":1.41e-7},{"s":"b","t":1.33,"m":1e-8},{"s":"b","t":1.339,"m":1e-8},{"s":"b","t":1.344,"m":1.41e-6},{"s":"b","t":1.351,"m":7.4e-6},{"s":"b","t":1.356,"m":7.8e-6},{"s":"b","t":1.361,"m":3.2e-6},{"s":"b","t":1.368,"m":2.8e-6},{"s":"b","t":1.375,"m":2.3e-6},{"s":"b","t":1.382,"m":6.0e-6},{"s":"b","t":1.386,"m":8.9e-6},{"s":"b","t":1.393,"m":3.5e-6},{"s":"b","t":1.4,"m":2.5e-6},{"s":"b","t":1.407,"m":3.5e-6},{"s":"b","t":1.417,"m":6.6e-6},{"s":"b","t":1.428,"m":3.9e-6},{"s":"b","t":1.435,"m":2.7e-6},{"s":"b","t":1.442,"m":3.9e-6},{"s":"b","t":1.449,"m":3.3e-6},{"s":"b","t":1.456,"m":5.4e-6},{"s":"b","t":1.463,"m":3.2e-6},{"s":"b","t":1.47,"m":3.2e-6},{"s":"b","t":1.474,"m":1.41e-6},{"s":"b","t":1.481,"m":1.07e-6},{"s":"b","t":1.488,"m":3.7e-6},{"s":"b","t":1.496,"m":6.6e-6},{"s":"b","t":1.5,"m":7e-6}
]
},
"hconcat": [
{
 "width": 712, "height": 789,
 "resolve": {"axis": {"x": "independent", "y": "independent"}},
 "layer": [
  {"data": {"name": "hs"}, "transform": [{"filter": "datum.s == 'r'"}],
   "mark": {"type": "line", "strokeWidth": 2.4, "clip": true},
   "encoding": {
    "x": {"field": "t", "type": "quantitative", "scale": {"domain": [0, 1.5], "nice": false, "zero": false},
          "axis": {"orient": "bottom", "values": [0, 0.5, 1, 1.5], "format": ".1f", "tickSize": -12, "labelPadding": 25, "title": "t  (Gyr)", "titlePadding": -1}},
    "y": {"field": "m", "type": "quantitative", "scale": {"type": "log", "domain": [1e-7, 1e-3], "nice": false},
          "axis": {"orient": "left", "values": [1e-7,2e-7,3e-7,4e-7,5e-7,6e-7,7e-7,8e-7,9e-7,1e-6,2e-6,3e-6,4e-6,5e-6,6e-6,7e-6,8e-6,9e-6,1e-5,2e-5,3e-5,4e-5,5e-5,6e-5,7e-5,8e-5,9e-5,1e-4,2e-4,3e-4,4e-4,5e-4,6e-4,7e-4,8e-4,9e-4,1e-3],
                   "tickSize": {"condition": {"test": "abs(log(datum.value)/LN10 - round(log(datum.value)/LN10)) < 0.01", "value": -13}, "value": -7},
                   "labelExpr": "abs(log(datum.value)/LN10 - round(log(datum.value)/LN10)) < 0.01 ? '10' + ['⁻⁷','⁻⁶','⁻⁵','⁻⁴','⁻³'][round(log(datum.value)/LN10) + 7] : ''",
                   "labelFontSize": 28, "labelPadding": 16, "title": "Ṁ/Σ₀  (pc² yr⁻¹)", "titlePadding": 44}},
    "color": {"field": "s", "type": "nominal", "scale": {"domain": ["r", "g", "b"], "range": ["#ff0000", "#404040", "#0000ff"]},
              "legend": {"title": null, "orient": "top-right", "offset": 12, "padding": 10, "strokeColor": "#cccccc", "fillColor": "white", "cornerRadius": 5, "symbolType": "M-2.3,0H2.3", "symbolStrokeWidth": 2.5, "symbolSize": 676, "symbolOffset": 15, "rowPadding": 9.5, "labelOffset": 29,
                         "labelExpr": "datum.label == 'r' ? 'Φₐ/V₀² = 2 × 10⁻⁴,  cₛ = 10 km s⁻¹' : datum.label == 'g' ? 'Φₐ/V₀² = 2 × 10⁻⁴,  cₛ = 20 km s⁻¹' : 'Φₐ/V₀² = 2 × 10⁻⁵,  cₛ = 10 km s⁻¹'"}}
   }},
  {"data": {"name": "hs"}, "transform": [{"filter": "datum.s == 'g'"}],
   "mark": {"type": "line", "strokeWidth": 2.4, "clip": true},
   "encoding": {
    "x": {"field": "t", "type": "quantitative", "scale": {"domain": [0, 1.5], "nice": false, "zero": false},
          "axis": {"orient": "top", "values": [0, 0.5, 1, 1.5], "tickSize": -12, "labels": false, "title": null}},
    "y": {"field": "m", "type": "quantitative", "scale": {"type": "log", "domain": [1e-7, 1e-3], "nice": false},
          "axis": {"orient": "right", "values": [1e-7,2e-7,3e-7,4e-7,5e-7,6e-7,7e-7,8e-7,9e-7,1e-6,2e-6,3e-6,4e-6,5e-6,6e-6,7e-6,8e-6,9e-6,1e-5,2e-5,3e-5,4e-5,5e-5,6e-5,7e-5,8e-5,9e-5,1e-4,2e-4,3e-4,4e-4,5e-4,6e-4,7e-4,8e-4,9e-4,1e-3],
                   "tickSize": {"condition": {"test": "abs(log(datum.value)/LN10 - round(log(datum.value)/LN10)) < 0.01", "value": -13}, "value": -7},
                   "labels": false, "title": null}},
    "color": {"field": "s", "type": "nominal"}
   }},
  {"data": {"name": "hs"}, "transform": [{"filter": "datum.s == 'b'"}],
   "mark": {"type": "line", "strokeWidth": 2.4, "clip": true},
   "encoding": {
    "x": {"field": "t", "type": "quantitative", "axis": null},
    "y": {"field": "m", "type": "quantitative", "axis": null},
    "color": {"field": "s", "type": "nominal"}
   }},
  {"data": {"values": [{"label": "(a) HS"}]},
   "mark": {"type": "text", "font": "DejaVu Sans", "fontSize": 35, "align": "left", "baseline": "middle", "color": "black"},
   "encoding": {
    "x": {"datum": 0.105, "type": "quantitative", "axis": null},
    "y": {"datum": 0.00055, "type": "quantitative", "axis": null},
    "text": {"field": "label"}
   }}
 ]
},
{
 "width": 712, "height": 789,
 "resolve": {"axis": {"x": "independent", "y": "independent"}},
 "layer": [
  {"data": {"name": "ls"}, "transform": [{"filter": "datum.s == 'r'"}],
   "mark": {"type": "line", "strokeWidth": 2.4, "clip": true},
   "encoding": {
    "x": {"field": "t", "type": "quantitative", "scale": {"domain": [0, 1.5], "nice": false, "zero": false},
          "axis": {"orient": "bottom", "values": [0, 0.5, 1, 1.5], "format": ".1f", "tickSize": -12, "labelPadding": 25, "title": "t  (Gyr)", "titlePadding": -1}},
    "y": {"field": "m", "type": "quantitative", "scale": {"type": "log", "domain": [1e-7, 1e-3], "nice": false},
          "axis": {"orient": "left", "values": [1e-7,2e-7,3e-7,4e-7,5e-7,6e-7,7e-7,8e-7,9e-7,1e-6,2e-6,3e-6,4e-6,5e-6,6e-6,7e-6,8e-6,9e-6,1e-5,2e-5,3e-5,4e-5,5e-5,6e-5,7e-5,8e-5,9e-5,1e-4,2e-4,3e-4,4e-4,5e-4,6e-4,7e-4,8e-4,9e-4,1e-3],
                   "tickSize": {"condition": {"test": "abs(log(datum.value)/LN10 - round(log(datum.value)/LN10)) < 0.01", "value": -13}, "value": -7},
                   "labelExpr": "abs(log(datum.value)/LN10 - round(log(datum.value)/LN10)) < 0.01 ? '10' + ['⁻⁷','⁻⁶','⁻⁵','⁻⁴','⁻³'][round(log(datum.value)/LN10) + 7] : ''",
                   "labelFontSize": 28, "labelPadding": 16, "title": null}},
    "color": {"field": "s", "type": "nominal", "scale": {"domain": ["r", "g", "b"], "range": ["#ff0000", "#404040", "#0000ff"]}, "legend": null}
   }},
  {"data": {"name": "ls"}, "transform": [{"filter": "datum.s == 'g'"}],
   "mark": {"type": "line", "strokeWidth": 2.4, "clip": true},
   "encoding": {
    "x": {"field": "t", "type": "quantitative", "scale": {"domain": [0, 1.5], "nice": false, "zero": false},
          "axis": {"orient": "top", "values": [0, 0.5, 1, 1.5], "tickSize": -12, "labels": false, "title": null}},
    "y": {"field": "m", "type": "quantitative", "scale": {"type": "log", "domain": [1e-7, 1e-3], "nice": false},
          "axis": {"orient": "right", "values": [1e-7,2e-7,3e-7,4e-7,5e-7,6e-7,7e-7,8e-7,9e-7,1e-6,2e-6,3e-6,4e-6,5e-6,6e-6,7e-6,8e-6,9e-6,1e-5,2e-5,3e-5,4e-5,5e-5,6e-5,7e-5,8e-5,9e-5,1e-4,2e-4,3e-4,4e-4,5e-4,6e-4,7e-4,8e-4,9e-4,1e-3],
                   "tickSize": {"condition": {"test": "abs(log(datum.value)/LN10 - round(log(datum.value)/LN10)) < 0.01", "value": -13}, "value": -7},
                   "labels": false, "title": null}},
    "color": {"field": "s", "type": "nominal", "legend": null}
   }},
  {"data": {"name": "ls"}, "transform": [{"filter": "datum.s == 'b'"}],
   "mark": {"type": "line", "strokeWidth": 2.4, "clip": true},
   "encoding": {
    "x": {"field": "t", "type": "quantitative", "axis": null},
    "y": {"field": "m", "type": "quantitative", "axis": null},
    "color": {"field": "s", "type": "nominal", "legend": null}
   }},
  {"data": {"values": [{"label": "(b) LS"}]},
   "mark": {"type": "text", "font": "DejaVu Sans", "fontSize": 35, "align": "left", "baseline": "middle", "color": "black"},
   "encoding": {
    "x": {"datum": 0.105, "type": "quantitative", "axis": null},
    "y": {"datum": 0.00055, "type": "quantitative", "axis": null},
    "text": {"field": "label"}
   }}
 ]
}
]
}
